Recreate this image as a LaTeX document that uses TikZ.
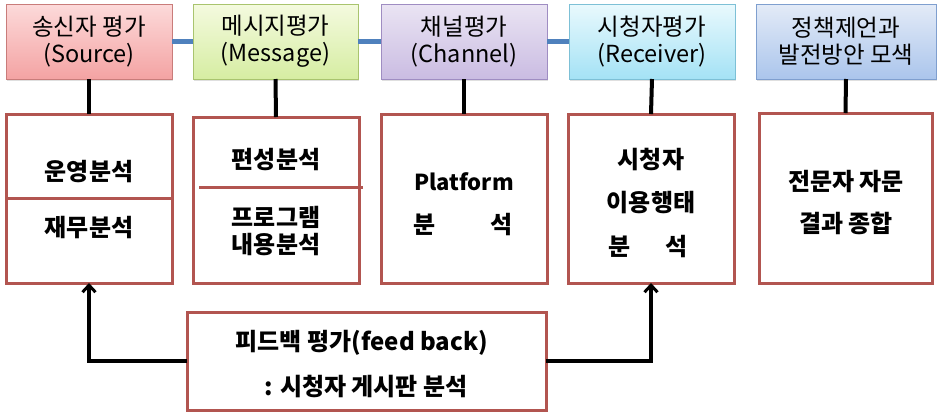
\documentclass[tikz,border=0pt]{standalone}
\usepackage{fontspec}
\setmainfont{Noto Sans CJK KR}
\usetikzlibrary{arrows.meta,shadows}
\definecolor{lowred}{HTML}{B25550}
\definecolor{conblue}{HTML}{4F81BD}
\definecolor{s1t}{HTML}{FCDADA}\definecolor{s1b}{HTML}{F4A3A3}\definecolor{s1d}{HTML}{C97C7A}
\definecolor{s2t}{HTML}{F4FADF}\definecolor{s2b}{HTML}{D6EDA2}\definecolor{s2d}{HTML}{A9C46E}
\definecolor{s3t}{HTML}{EAE4F3}\definecolor{s3b}{HTML}{CABCE2}\definecolor{s3d}{HTML}{9F8DC2}
\definecolor{s4t}{HTML}{E9F9FD}\definecolor{s4b}{HTML}{A4E2F5}\definecolor{s4d}{HTML}{7DC0D6}
\definecolor{s5t}{HTML}{E3EBF7}\definecolor{s5b}{HTML}{ABC5EC}\definecolor{s5d}{HTML}{7F9FCF}
\tikzset{
  topbox/.style={draw, line width=0.8pt, inner sep=0pt, outer sep=0pt, anchor=north west,
    minimum height=75pt, align=center, font=\fontsize{23.5}{27}\selectfont,
    drop shadow={shadow xshift=1pt, shadow yshift=-1.5pt, opacity=0.25}},
  lowbox/.style={draw=lowred, line width=3pt, inner sep=0pt, outer sep=0pt, anchor=north west},
  boldtxt/.style={font=\bfseries\fontsize{24}{28}\selectfont, inner sep=0pt},
  blueline/.style={draw=conblue, line width=5pt},
  blackline/.style={draw=black, line width=4pt},
  fbarrow/.style={draw=black, line width=3.5pt, -{Straight Barb[length=7pt,width=13pt,line width=3pt]}},
}
\begin{document}
\begin{tikzpicture}[x=1pt,y=-1pt]
\useasboundingbox (0,0) rectangle (943,413);
% top boxes
\node[topbox, draw=s1d, top color=s1t, bottom color=s1b, minimum width=166pt] (src) at (6,4) {송신자 평가\\(Source)};
\node[topbox, draw=s2d, top color=s2t, bottom color=s2b, minimum width=165pt] (msg) at (193,4) {메시지평가\\(Message)};
\node[topbox, draw=s3d, top color=s3t, bottom color=s3b, minimum width=166pt] (chn) at (381,4) {채널평가\\(Channel)};
\node[topbox, draw=s4d, top color=s4t, bottom color=s4b, minimum width=166pt] (rcv) at (569,4) {시청자평가\\(Receiver)};
\node[topbox, draw=s5d, top color=s5t, bottom color=s5b, minimum width=180pt] (pol) at (756,4) {정책제언과\\발전방안 모색};
% blue connectors
\draw[blueline] (src.east) -- (msg.west);
\draw[blueline] (msg.east) -- (chn.west);
\draw[blueline] (chn.east) -- (rcv.west);
% lower boxes
\node[lowbox, minimum width=166pt, minimum height=169pt] (src2) at (6,114) {};
\node[lowbox, minimum width=166pt, minimum height=166pt] (msg2) at (193,117) {};
\node[lowbox, minimum width=166pt, minimum height=169pt] (chn2) at (381,114) {};
\node[lowbox, minimum width=166pt, minimum height=169pt] (rcv2) at (568,114) {};
\node[lowbox, minimum width=173pt, minimum height=170pt] (pol2) at (759,113) {};
% vertical connectors
\draw[blackline] (src.south) -- (src2.north);
\draw[blackline] (msg.south) -- (msg2.north);
\draw[blackline] (chn.south) -- (chn2.north);
\draw[blackline] (rcv.south) -- (rcv2.north);
\draw[blackline] (pol.south) -- (pol2.north);
% dividers
\draw[draw=lowred, line width=3pt] (src2.west |- 0,198) -- (src2.east |- 0,198);
\draw[draw=lowred, line width=3pt] ([xshift=6pt]msg2.west |- 0,187) -- ([xshift=4pt]msg2.east |- 0,187);
% texts
\node[boldtxt] (t11) at (89,172) {운영분석};
\node[boldtxt] (t12) at (89,228) {재무분석};
\node[boldtxt] (t21) at (276,160) {편성분석};
\node[boldtxt, align=center, font=\bfseries\fontsize{24}{27}\selectfont] (t22) at (276,231) {프로그램\\내용분석};
\node[boldtxt, font=\bfseries\fontsize{22}{28}\selectfont] (t31) at (464,182) {Platform};
\node[boldtxt] (t32a) at (425,225) {분};
\node[boldtxt] (t32b) at (502,225) {석};
\node[boldtxt] (t41) at (651,160) {시청자};
\node[boldtxt] (t42) at (651,203) {이용행태};
\node[boldtxt] (t43a) at (620,247) {분};
\node[boldtxt] (t43b) at (677,247) {석};
\node[boldtxt] (t51) at (846,182) {전문자 자문};
\node[boldtxt] (t52) at (846,223) {결과 종합};
% feedback box
\node[lowbox, minimum width=359pt, minimum height=98pt] (fb) at (187,312) {};
\node[boldtxt] (f1) at (362,343) {피드백 평가(feed back)};
\node[boldtxt] (f2) at (366,387) {: 시청자 게시판 분석};
% feedback arrows
\draw[fbarrow] (fb.west) -| (src2.south);
\draw[fbarrow] (fb.east) -| (rcv2.south);
\end{tikzpicture}
\end{document}
